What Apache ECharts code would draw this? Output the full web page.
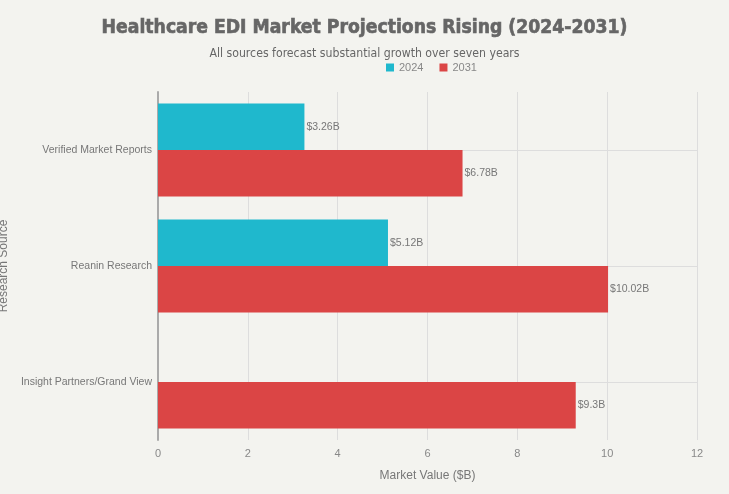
<!DOCTYPE html>
<html><head><meta charset="utf-8">
<script src="https://cdn.jsdelivr.net/npm/echarts@6/dist/echarts.min.js"></script>
<style>html,body{margin:0;padding:0;background:#f3f3ef;}#c{width:729px;height:494px;}</style>
</head><body><div id="c"></div>
<script>
const categories = ['Verified Market Reports', 'Reanin Research', 'Insight Partners/Grand View'];
const values2024 = [3.26, 5.12, null];
const values2031 = [6.78, 10.02, 9.3];
const xTicks = [0, 2, 4, 6, 8, 10, 12];

const chart = echarts.init(document.getElementById('c'));
const labelFmt = p => p.value == null ? '' : '$' + p.value + 'B';
chart.setOption({
  backgroundColor: '#f3f3ef',
  animation: false,
  title: [{
    text: 'Healthcare EDI Market Projections Rising (2024-2031)',
    left: 'center', top: 14,
    textStyle: {fontFamily: 'DejaVu Sans Condensed', fontWeight: 'bold', fontSize: 19.2, color: '#666666',
      textBorderColor: '#666666', textBorderWidth: 0.6}
  }, {
    text: 'All sources forecast substantial growth over seven years',
    left: 'center', top: 43,
    textStyle: {fontFamily: 'DejaVu Sans Condensed', fontWeight: 'normal', fontSize: 12.2, color: '#666666'}
  }],
  legend: {
    top: 57, left: 381,
    itemWidth: 8, itemHeight: 8, itemGap: 16, icon: 'rect',
    textStyle: {fontFamily: 'Liberation Sans', fontSize: 11, color: '#888'},
    data: ['2024', '2031']
  },
  grid: {left: 158, right: 32, top: 92, bottom: 54, outerBoundsMode: 'none', containLabel: false},
  xAxis: {
    type: 'value', min: 0, max: 12, interval: 2,
    name: 'Market Value ($B)', nameLocation: 'middle', nameGap: 30,
    nameTextStyle: {fontFamily: 'Liberation Sans', fontSize: 12, color: '#777'},
    axisLine: {show: false}, axisTick: {show: false},
    axisLabel: {margin: 8, fontFamily: 'Liberation Sans', fontSize: 11, color: '#888'},
    splitLine: {show: true, lineStyle: {color: '#dddddd', width: 1}}
  },
  yAxis: {
    type: 'category', data: categories, inverse: true,
    name: 'Research Source', nameLocation: 'middle', nameGap: 148, nameRotate: 90,
    nameTextStyle: {fontFamily: 'Liberation Sans', fontSize: 12, color: '#777'},
    axisLine: {show: true, lineStyle: {color: '#aaaaaa', width: 2}},
    axisTick: {show: false},
    axisLabel: {margin: 6, fontFamily: 'Liberation Sans', fontSize: 10.5, color: '#777'},
    splitLine: {show: false}
  },
  series: [{
    name: 'grid', type: 'line', data: [], silent: true, z: 1,
    markLine: {
      silent: true, symbol: 'none', label: {show: false}, z: 1,
      lineStyle: {color: '#dddddd', width: 1, type: 'solid'},
      data: categories.map(c => ({yAxis: c}))
    }
  }, {
    name: '2024', type: 'bar', data: values2024,
    itemStyle: {color: '#1fb8cd'},
    barGap: '0%', barCategoryGap: '20%',
    label: {show: true, position: 'right', distance: 2, formatter: labelFmt,
      fontFamily: 'Liberation Sans', fontSize: 10.5, color: '#777'},
    z: 3
  }, {
    name: '2031', type: 'bar', data: values2031,
    itemStyle: {color: '#db4545'},
    barGap: '0%', barCategoryGap: '20%',
    label: {show: true, position: 'right', distance: 2, formatter: labelFmt,
      fontFamily: 'Liberation Sans', fontSize: 10.5, color: '#777'},
    z: 3
  }]
});
</script></body></html>
